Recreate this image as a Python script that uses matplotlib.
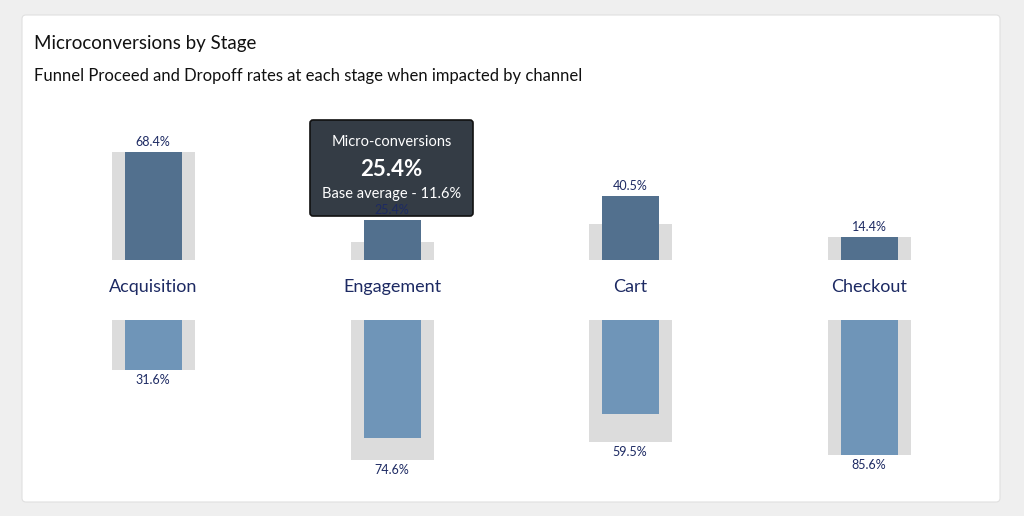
import matplotlib
matplotlib.use("Agg")
import matplotlib.pyplot as plt
from matplotlib.patches import FancyBboxPatch

stages = ["Acquisition", "Engagement", "Cart", "Checkout"]
proceed = [68.4, 25.4, 40.5, 14.4]
dropoff = [31.6, 74.6, 59.5, 85.6]
base_proceed = [68.4, 11.6, 23.0, 14.6]
base_dropoff = [31.6, 88.4, 77.0, 85.4]
centers = [153, 392, 630, 869]

W, H = 1024, 516
PXPCT = 1.58
fig = plt.figure(figsize=(W/100, H/100), dpi=100)
fig.patch.set_facecolor("#efefef")
bg = fig.add_axes([0, 0, 1, 1])
bg.set_xlim(0, W); bg.set_ylim(H, 0); bg.axis("off")
bg.add_patch(FancyBboxPatch((22, 15), 978, 487, boxstyle="round,pad=0,rounding_size=4",
                            fc="white", ec="#e0e0e0", lw=0.8))
bg.text(34, 44, "Microconversions by Stage", fontsize=13.5, family="Lato", color="#111", va="center")
bg.text(34, 76, "Funnel Proceed and Dropoff rates at each stage when impacted by channel",
        fontsize=12, family="Lato", color="#111", va="center")

navy = "#1d2a63"
for s, c in zip(stages, centers):
    bg.text(c, 287, s, fontsize=13, family="Lato", color=navy, ha="center", va="center")

hpx = 160
top = fig.add_axes([0, (H-260)/H, 1, hpx/H])
top.set_xlim(0, W); top.set_ylim(0, hpx/PXPCT); top.axis("off")
bot = fig.add_axes([0, (H-320-hpx)/H, 1, hpx/H])
bot.set_xlim(0, W); bot.set_ylim(hpx/PXPCT, 0); bot.axis("off")

for ax, vals, base, col, above in [(top, proceed, base_proceed, "#52708e", True),
                                   (bot, dropoff, base_dropoff, "#6f95b8", False)]:
    ax.bar(centers, base, width=83, color="#dcdcdc")
    ax.bar(centers, vals, width=57, color=col)
    for c, v, b in zip(centers, vals, base):
        y = max(v, b)
        off = 2.5 if above else 2.5
        ax.text(c, y + off, f"{v}%", fontsize=9, family="Lato", color=navy, ha="center",
                va="bottom" if above else "top")

# tooltip
bg.add_patch(FancyBboxPatch((310, 120), 163, 96, boxstyle="round,pad=0,rounding_size=3",
                            fc="#343c45", ec="#111", lw=1.2, zorder=5))
bg.text(391.5, 142, "Micro-conversions", fontsize=10.5, family="Lato", color="white", ha="center", va="center", zorder=6)
bg.text(391.5, 169, "25.4%", fontsize=16, family="Lato", weight="bold", color="white", ha="center", va="center", zorder=6)
bg.text(391.5, 194, "Base average - 11.6%", fontsize=10.5, family="Lato", color="white", ha="center", va="center", zorder=6)

fig.savefig("out.png", dpi=100, facecolor=fig.get_facecolor())
